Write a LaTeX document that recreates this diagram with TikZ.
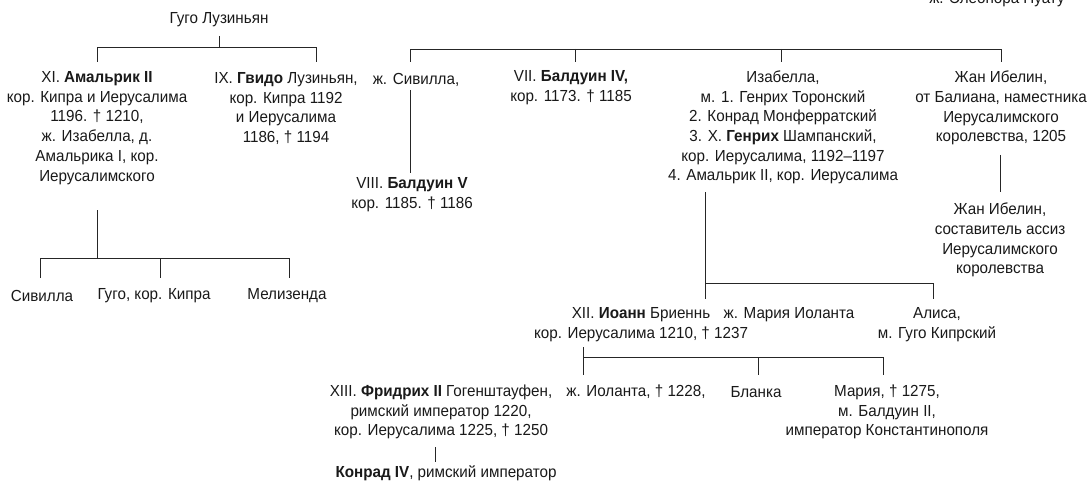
\documentclass[tikz,border=0pt]{standalone}
\usepackage{fontspec}
\setmainfont[FakeStretch=0.95]{Liberation Sans}
\begin{document}
\begin{tikzpicture}[x=1pt,y=-1pt,
  lbl/.style={inner sep=0pt,align=center,font=\fontsize{16}{19.7}\selectfont,text=black!90},
  conn/.style={draw=black!85,line width=0.9pt}]
\useasboundingbox (0,0) rectangle (1091,481);
\clip (0,0) rectangle (1091,481);
% nodes
\node[lbl] (hugo) at (219,20) {Гуго Лузиньян};
\node[lbl] (amal) at (97,128) {XI. \textbf{Амальрик II}\\кор. Кипра и Иерусалима\\1196. † 1210,\\ж. Изабелла, д.\\Амальрика I, кор.\\Иерусалимского};
\node[lbl] (guido) at (286,108.5) {IX. \textbf{Гвидо} Лузиньян,\\кор. Кипра 1192\\и Иерусалима\\1186, † 1194};
\node[lbl] (sib) at (416,80) {ж. Сивилла,};
\node[lbl] (bald4) at (571,88) {VII. \textbf{Балдуин IV,}\\кор. 1173. † 1185};
\node[lbl] (isab) at (783,127.5) {Изабелла,\\м. 1. Генрих Торонский\\2. Конрад Монферратский\\3. Х. \textbf{Генрих} Шампанский,\\кор. Иерусалима, 1192–1197\\4. Амальрик II, кор. Иерусалима};
\node[lbl] (jean) at (1001,108) {Жан Ибелин,\\от Балиана, наместника\\Иерусалимского\\королевства, 1205};
\node[lbl] (bald5) at (412,195) {VIII. \textbf{Балдуин V}\\кор. 1185. † 1186};
\node[lbl] (jean2) at (1000,240) {Жан Ибелин,\\составитель ассиз\\Иерусалимского\\королевства};
\node[lbl] (sibc) at (42,296) {Сивилла};
\node[lbl] (hugoc) at (154,296) {Гуго, кор. Кипра};
\node[lbl] (meli) at (287,296) {Мелизенда};
\node[lbl] (ioann) at (641,324.5) {XII. \textbf{Иоанн} Бриеннь\\кор. Иерусалима 1210, † 1237};
\node[lbl] (maria1) at (789,315) {ж. Мария Иоланта};
\node[lbl] (alisa) at (937,324.5) {Алиса,\\м. Гуго Кипрский};
\node[lbl] (fred) at (441,412) {XIII. \textbf{Фридрих II} Гогенштауфен,\\римский император 1220,\\кор. Иерусалима 1225, † 1250};
\node[lbl] (iol) at (636,392) {ж. Иоланта, † 1228,};
\node[lbl] (blanka) at (756,392) {Бланка};
\node[lbl] (maria2) at (887,412) {Мария, † 1275,\\м. Балдуин II,\\император Константинополя};
\node[lbl] (konrad) at (446,473) {\textbf{Конрад IV}, римский император};
\node[lbl] (elea) at (997,0) {ж. Элеонора Пуату};
% connectors
\draw[conn] (219,36) -- (219,47);
\draw[conn] (97,62) -- (97,47) -- (316,47) -- (316,62);
\draw[conn] (97,210) -- (97,258);
\draw[conn] (40,278) -- (40,258) -- (289,258) -- (289,278);
\draw[conn] (160,258) -- (160,278);
\draw[conn] (410,62) -- (410,49) -- (1001,49) -- (1001,62);
\draw[conn] (575,49) -- (575,62);
\draw[conn] (781,49) -- (781,62);
\draw[conn] (410,90) -- (410,173);
\draw[conn] (1000,155) -- (1000,192);
\draw[conn] (705,192) -- (705,299);
\draw[conn] (705,283) -- (933,283) -- (933,299);
\draw[conn] (583,347) -- (583,375);
\draw[conn] (583,357) -- (883,357) -- (883,375);
\draw[conn] (758,357) -- (758,375);
\draw[conn] (435,447) -- (435,462);
\end{tikzpicture}
\end{document}
